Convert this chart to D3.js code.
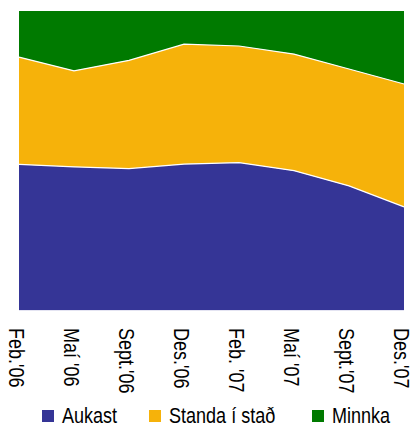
<!DOCTYPE html>
<html>
<head>
  <meta charset="utf-8">
  <script src="https://d3js.org/d3.v7.min.js"></script>
  <style>
    body { margin: 0; background: #fff; }
    text { font-family: "Liberation Sans", Arial, sans-serif; fill: #000; }
  </style>
</head>
<body>
<script>
  // data (percent of replies)
  var months = ["Feb.'06", "Maí '06", "Sept.'06", "Des.'06", "Feb. '07", "Maí '07", "Sept.'07", "Des.'07"];
  var aukast = [48.7, 47.9, 47.3, 48.8, 49.3, 46.6, 41.5, 34.5];
  var standa = [35.9, 32.1, 36.2, 40.1, 39.0, 39.0, 39.1, 41.1];
  var minnka = [15.4, 20.0, 16.5, 11.1, 11.7, 14.4, 19.4, 24.4];
  var seriesNames = ["Aukast", "Standa í stað", "Minnka"];
  var colors = ["#353596", "#f6b20a", "#007a00"];

  var width = 415, height = 427;
  var margin = {top: 11, right: 11, bottom: 117, left: 19};
  var squeeze = 0.82; // the reference font is a narrow sans

  var svg = d3.select("body").append("svg")
      .attr("width", width)
      .attr("height", height);

  var rows = months.map(function(m, i) {
    return {month: m, a: aukast[i], s: standa[i], m: minnka[i]};
  });

  var stack = d3.stack().keys(["a", "s", "m"]);
  var layers = stack(rows);

  var x = d3.scalePoint()
      .domain(months)
      .range([margin.left, width - margin.right]);

  var y = d3.scaleLinear()
      .domain([0, 100])
      .range([height - margin.bottom, margin.top]);

  var area = d3.area()
      .x(function(d) { return x(d.data.month); })
      .y0(function(d) { return y(d[0]); })
      .y1(function(d) { return y(d[1]); });

  svg.selectAll(".layer")
      .data(layers)
      .enter().append("path")
      .attr("class", "layer")
      .attr("d", area)
      .style("fill", function(d, i) { return colors[i]; });

  // white separator lines between the layers
  var line = d3.line()
      .x(function(d) { return x(d.data.month); })
      .y(function(d) { return y(d[1]); });

  svg.selectAll(".sep")
      .data(layers.slice(0, 2))
      .enter().append("path")
      .attr("class", "sep")
      .attr("d", line)
      .style("fill", "none")
      .style("stroke", "#fff")
      .style("stroke-width", 1.2);

  // thin bottom line
  svg.append("line")
      .attr("x1", margin.left).attr("x2", width - margin.right)
      .attr("y1", y(0) + 0.5).attr("y2", y(0) + 0.5)
      .style("stroke", "#e4e4f2");

  // rotated month labels
  svg.selectAll(".xlab")
      .data(months)
      .enter().append("text")
      .attr("class", "xlab")
      .attr("transform", function(d) { return "translate(" + (x(d) - 2) + "," + 328 + ") rotate(90) scale(" + squeeze + ",1)"; })
      .attr("dy", "0.35em")
      .style("font-size", "22px")
      .text(function(d) { return d; });

  // legend
  var legendX = [42, 149, 312];
  var leg = svg.selectAll(".leg")
      .data(seriesNames)
      .enter().append("g")
      .attr("class", "leg")
      .attr("transform", function(d, i) { return "translate(" + legendX[i] + ",410)"; });

  leg.append("rect")
      .attr("width", 12)
      .attr("height", 12)
      .style("fill", function(d, i) { return colors[i]; });

  leg.append("text")
      .attr("transform", "translate(20,12.5) scale(" + squeeze + ",1)")
      .style("font-size", "22px")
      .text(function(d) { return d; });
</script>
</body>
</html>
